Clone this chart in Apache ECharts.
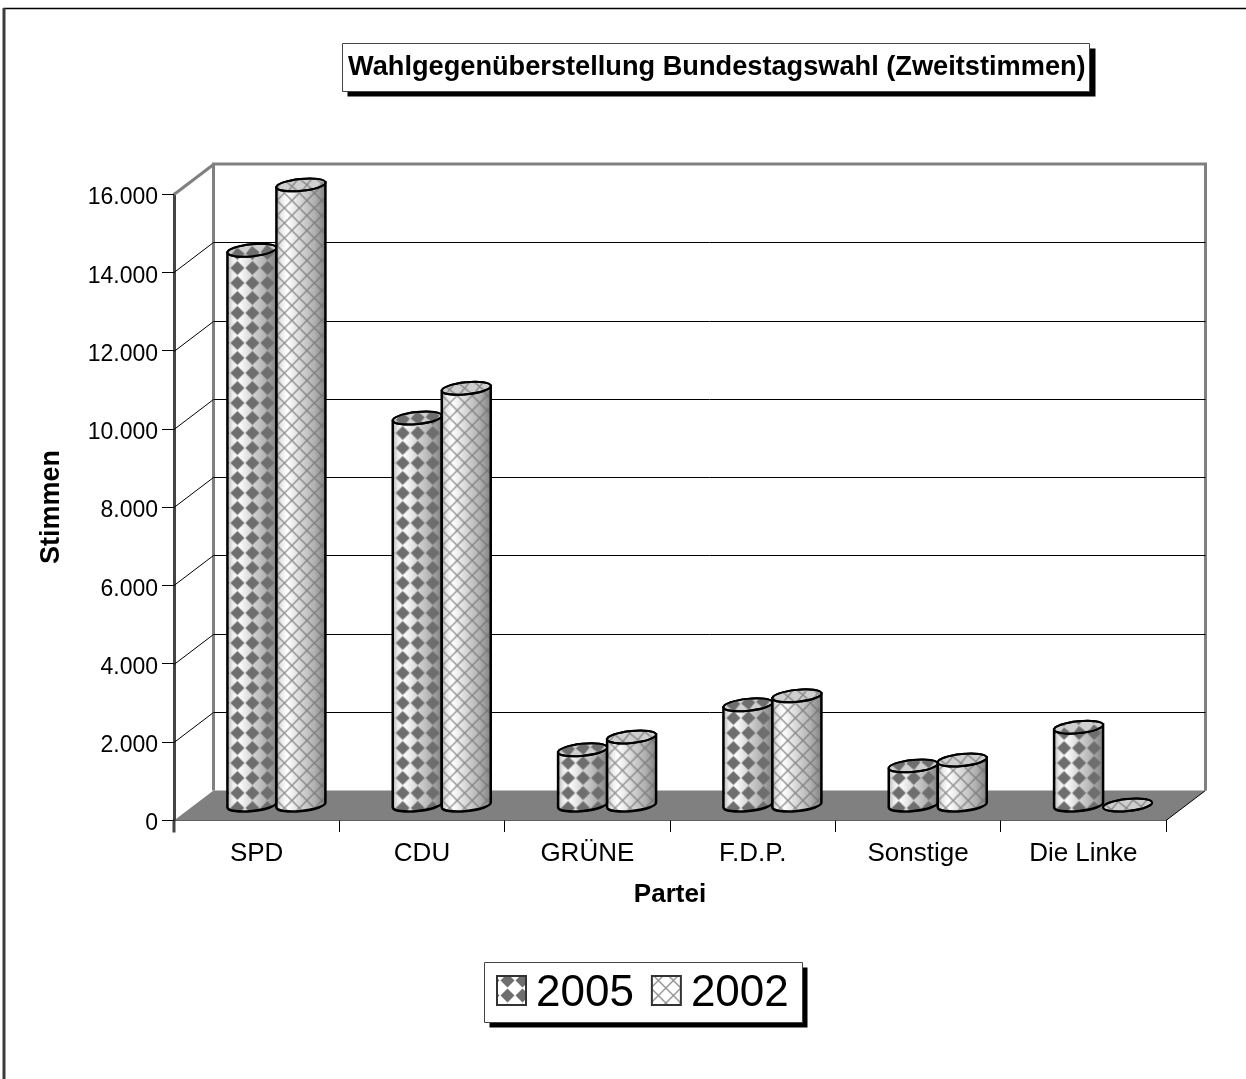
<!DOCTYPE html>
<html>
<head>
<meta charset="utf-8">
<style>html,body{margin:0;padding:0;background:#fff}#main{width:1246px;height:1079px}</style>
<script src="https://cdn.jsdelivr.net/npm/echarts@6/dist/echarts.min.js"></script>
</head>
<body>
<div id="main"></div>
<script>
var parteien = ['SPD', 'CDU', 'GRÜNE', 'F.D.P.', 'Sonstige', 'Die Linke'];
var werte2005 = [14180, 9890, 1410, 2560, 1000, 1990];
var werte2002 = [15850, 10650, 1740, 2790, 1150, 0];

// Tiefe der 3D-Wand in Pixeln
var DX = 39.5, DY = 30;
var R = 24.5, RY = 6, TILT = 2.5;

function makeTile(draw) {
  var c = document.createElement('canvas');
  c.width = 15; c.height = 15;
  draw(c.getContext('2d'));
  return c;
}
var rautenTile = makeTile(function (g) {
  g.fillStyle = '#6e6e6e';
  g.beginPath();
  g.moveTo(7.5, 0.5); g.lineTo(14.5, 7.5); g.lineTo(7.5, 14.5); g.lineTo(0.5, 7.5);
  g.closePath(); g.fill();
});
var gitterTile = makeTile(function (g) {
  g.strokeStyle = 'rgba(110,110,110,0.75)'; g.lineWidth = 1.4;
  g.beginPath();
  g.moveTo(0, 0); g.lineTo(15, 15);
  g.moveTo(15, 0); g.lineTo(0, 15);
  g.stroke();
});
function muster(tile, x, y) {
  return { image: tile, repeat: 'repeat', x: x, y: y };
}

var shade = {
  type: 'linear', x: 0, y: 0, x2: 1, y2: 0,
  colorStops: [
    { offset: 0, color: '#b4b4b4' },
    { offset: 0.1, color: '#e8e8e8' },
    { offset: 0.22, color: '#ffffff' },
    { offset: 0.5, color: '#d6d6d6' },
    { offset: 0.78, color: '#b0b0b0' },
    { offset: 1, color: '#828282' }
  ]
};

function renderWand(params, api) {
  var v = api.value(0);
  var cs = params.coordSys;
  var p = api.coord([0, v]);
  var x0 = cs.x, x1 = cs.x + cs.width;
  var y = Math.round(p[1]) + 0.5;
  var back = y - DY;
  var kids = [];
  if (v === 0) {
    // Boden und Wandrahmen
    var topY = Math.round(api.coord([0, 16000])[1]) - DY;
    kids.push({ type: 'polygon', shape: { points: [[x0, y], [x1, y], [x1 + DX, back], [x0 + DX, back]] }, style: { fill: '#808080' } });
    kids.push({ type: 'line', shape: { x1: x1, y1: y, x2: x1 + DX, y2: back }, style: { stroke: '#000', lineWidth: 1 } });
    kids.push({ type: 'line', shape: { x1: x0, y1: y, x2: x0, y2: y + 12 }, style: { stroke: '#444', lineWidth: 3 } });
    kids.push({ type: 'polyline', shape: { points: [[x0 + DX, back], [x0 + DX, topY], [x1 + DX, topY], [x1 + DX, back]] }, style: { fill: 'none', stroke: '#808080', lineWidth: 3 } });
  } else if (v === 16000) {
    kids.push({ type: 'line', shape: { x1: x0, y1: y, x2: x0 + DX, y2: back }, style: { stroke: '#808080', lineWidth: 3 } });
  } else {
    kids.push({ type: 'polyline', shape: { points: [[x0, y], [x0 + DX, back], [x1 + DX, back]] }, style: { fill: 'none', stroke: '#000', lineWidth: 1 } });
  }
  return { type: 'group', children: kids };
}

function zylinder(params, api, tile, shiftX) {
  var idx = api.value(0), v = api.value(1);
  var base = api.coord([idx, 0]);
  var top = api.coord([idx, v]);
  var cx = base[0] + DX / 2 + (params.seriesName === '2005' ? -R : R);
  var yb = base[1] - DY / 2, yt = top[1] - DY / 2;
  var deg = Math.atan2(TILT, R) * 180 / Math.PI;
  var ell = { cx: cx, cy: yt, rx: Math.sqrt(R * R + TILT * TILT), ry: RY };
  var fill = muster(tile, cx - R + shiftX, yb - 19.5);
  var flat = function (f) {
    return { type: 'ellipse', shape: ell, rotation: Math.atan2(TILT, R), originX: cx, originY: yt, style: { fill: f, stroke: '#000', lineWidth: 2 } };
  };
  if (v === 0) {
    return { type: 'group', children: [flat('#cfcfcf'), flat(fill)] };
  }
  var d = 'M' + (cx - R) + ' ' + (yt + TILT) + 'L' + (cx - R) + ' ' + (yb + TILT) +
    'A' + ell.rx + ' ' + RY + ' ' + (-deg) + ' 0 0 ' + (cx + R) + ' ' + (yb - TILT) +
    'L' + (cx + R) + ' ' + (yt - TILT) + 'Z';
  return {
    type: 'group',
    children: [
      { type: 'path', shape: { pathData: d }, style: { fill: shade } },
      { type: 'path', shape: { pathData: d }, style: { fill: fill, stroke: '#000', lineWidth: 2.5 } },
      flat('#cfcfcf'),
      flat(fill)
    ]
  };
}

var chartDom = document.getElementById('main');
var myChart = echarts.init(chartDom);

var fontName = '"Liberation Sans", Arial, sans-serif';
var option = {
  animation: false,
  backgroundColor: '#fff',
  textStyle: { fontFamily: fontName, color: '#000' },
  title: {
    text: 'Wahlgegenüberstellung Bundestagswahl (Zweitstimmen)',
    left: 348, top: 54,
    padding: 0,
    textStyle: { fontFamily: fontName, fontSize: 27.2, fontWeight: 'bold', color: '#000' }
  },
  legend: {
    left: 496, top: 972,
    padding: 0,
    itemWidth: 29, itemHeight: 29, itemGap: 17,
    formatter: '{a|{name}}',
    textStyle: {
      fontFamily: fontName, fontSize: 44, color: '#000',
      rich: { a: { fontFamily: fontName, fontSize: 44, color: '#000', padding: [7, 0, 0, 5] } }
    },
    data: [
      { name: '2005', icon: 'rect', itemStyle: { color: muster(rautenTile, 3, 12), borderColor: '#333', borderWidth: 2 } },
      { name: '2002', icon: 'rect', itemStyle: { color: muster(gitterTile, -1, 12), borderColor: '#333', borderWidth: 2 } }
    ]
  },
  grid: { left: 174, top: 194, width: 992, height: 626 },
  xAxis: {
    type: 'category',
    data: parteien,
    name: 'Partei',
    nameLocation: 'middle',
    nameGap: 62,
    nameTextStyle: { fontFamily: fontName, fontSize: 26, fontWeight: 'bold', color: '#000' },
    axisLine: { lineStyle: { color: '#000', width: 1.5 } },
    axisTick: { show: true, alignWithLabel: false, length: 12, lineStyle: { color: '#000', width: 1 } },
    axisLabel: { fontFamily: fontName, fontSize: 26, color: '#000', margin: 21 }
  },
  yAxis: {
    type: 'value',
    min: 0, max: 16000, interval: 2000,
    name: 'Stimmen',
    nameLocation: 'middle',
    nameGap: 109,
    nameTextStyle: { fontFamily: fontName, fontSize: 27, fontWeight: 'bold', color: '#000' },
    splitLine: { show: false },
    axisLine: { show: true, lineStyle: { color: '#444', width: 3 } },
    axisTick: { show: true, length: 12, lineStyle: { color: '#000', width: 1 } },
    axisLabel: {
      fontFamily: fontName, fontSize: 23, color: '#000', margin: 16,
      verticalAlign: 'top', lineHeight: 8,
      formatter: function (v) { return v === 0 ? '0' : (v / 1000).toFixed(3); }
    }
  },
  series: [
    {
      type: 'custom', name: 'wand', silent: true, z: 1,
      encode: { y: 0 }, clip: false,
      renderItem: renderWand,
      data: [0, 2000, 4000, 6000, 8000, 10000, 12000, 14000, 16000].map(function (v) { return [v]; })
    },
    {
      type: 'custom', name: '2005', z: 3,
      encode: { x: 0, y: 1 }, clip: false,
      itemStyle: { color: '#808080' },
      renderItem: function (p, a) { return zylinder(p, a, rautenTile, 2.5); },
      data: werte2005.map(function (v, i) { return [i, v]; })
    },
    {
      type: 'custom', name: '2002', z: 4,
      encode: { x: 0, y: 1 }, clip: false,
      itemStyle: { color: '#c0c0c0' },
      renderItem: function (p, a) { return zylinder(p, a, gitterTile, 0.5); },
      data: werte2002.map(function (v, i) { return [i, v]; })
    }
  ],
  graphic: [
    // Rahmen, Titelbox, Legendenbox
    { type: 'rect', silent: true, z: -1, shape: { x: 4, y: 8.5, width: 1300, height: 1200 }, style: { fill: 'none', stroke: '#000', lineWidth: 1.5 } },
    { type: 'line', silent: true, z: -1, shape: { x1: 4, y1: 8, x2: 4, y2: 1079 }, style: { stroke: '#3c3c3c', lineWidth: 3 } },
    { type: 'rect', silent: true, z: 0, shape: { x: 347.5, y: 48.5, width: 748, height: 48 }, style: { fill: '#000' } },
    { type: 'rect', silent: true, z: 1, shape: { x: 342.5, y: 43.5, width: 747, height: 48 }, style: { fill: '#fff', stroke: '#444', lineWidth: 1 } },
    { type: 'rect', silent: true, z: 0, shape: { x: 489.5, y: 967.5, width: 318, height: 60 }, style: { fill: '#000' } },
    { type: 'rect', silent: true, z: 1, shape: { x: 484.5, y: 962.5, width: 318, height: 60 }, style: { fill: '#fff', stroke: '#444', lineWidth: 1 } }
  ]
};
myChart.setOption(option);
</script>
</body>
</html>
